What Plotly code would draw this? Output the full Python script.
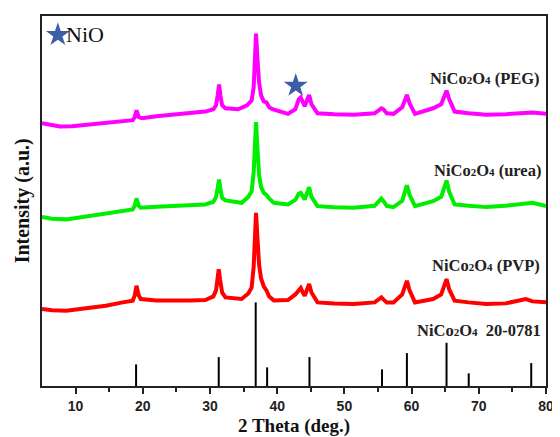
import plotly.graph_objects as go

# ---- data (2θ in degrees, intensity in arbitrary units) ----
peg_x = [5.0, 6.5, 7.65, 9.5, 12.1, 15, 17, 18.5, 18.8, 19.06, 19.4, 19.9, 22, 24.4, 27, 29.3,
         30.5, 30.9, 31.15, 31.35, 31.55, 31.8, 32.3, 34.2, 35.5, 36.2, 36.5, 36.65, 36.85, 37.05,
         37.3, 37.6, 38.0, 38.4, 38.8, 39.3, 41.6, 42.7, 43.2, 43.5, 43.8, 44.1, 44.5, 44.75, 45.1,
         46, 48.5, 51.4, 54.5, 55.5, 55.8, 56.3, 57.3, 58.6, 59.3, 59.7, 60.5, 62, 63.2, 64.4, 65.0,
         65.2, 65.6, 66.4, 68.5, 71.1, 74, 77, 78.0, 80]
peg_y = [264, 262, 260.7, 261, 263, 265, 266, 267, 270, 277, 270, 269, 271, 272.4, 274, 275.7,
         278, 282, 292, 303, 292, 282, 279, 278, 282, 287, 300, 330, 354, 330,
         305, 292, 286, 285, 280, 278, 273.4, 278, 288, 290, 285, 281, 288, 292.4, 283,
         274, 273, 272.4, 274, 279, 278, 274, 273.4, 280, 292.4, 284, 273.4, 276, 279, 283, 293,
         296.7, 288, 275.7, 274, 272.4, 273, 275, 274.7, 273.4]

urea_x = [5.0, 6.5, 8.6, 11, 14.5, 17, 18.5, 18.8, 19.06, 19.4, 19.7, 22, 24.4, 27, 29.3,
          30.5, 30.9, 31.15, 31.35, 31.55, 31.8, 32.3, 34.7, 35.7, 36.2, 36.5, 36.65, 36.85, 37.05,
          37.3, 37.6, 38.0, 38.4, 38.8, 39.5, 41.6, 42.7, 43.2, 43.5, 43.8, 44.1, 44.5, 44.75, 45.1,
          46, 48.5, 51.4, 54.5, 55.5, 55.8, 56.3, 57.3, 58.6, 59.3, 59.7, 60.5, 62, 63.2, 64.4, 65.0,
          65.2, 65.6, 66.4, 68.5, 71.1, 74, 77, 78.0, 80]
urea_y = [169.7, 168, 167.4, 170, 173, 176, 177.4, 181, 188.4, 181, 179, 180, 180.7, 181.5, 182.4,
          185, 190, 199, 207.4, 198, 189, 186.4, 184, 190, 195.7, 215, 240, 265, 240,
          212, 200, 194, 192, 188.4, 184, 182.4, 187, 193, 194, 190, 187.4, 195, 199.7, 190,
          180.7, 179.5, 179, 181, 188.4, 186, 181, 179.7, 186, 201.7, 192, 180.7, 183, 185.7, 190, 203,
          206.4, 195, 182.4, 181, 179.7, 181, 183, 184, 180.7]

pvp_x = [5.0, 6.5, 8.6, 11, 14.5, 17, 18.5, 18.8, 19.06, 19.4, 19.7, 22, 24.4, 27, 29.3,
         30.5, 30.9, 31.1, 31.3, 31.5, 31.8, 32.3, 34.7, 35.7, 36.2, 36.5, 36.65, 36.85, 37.05,
         37.3, 37.6, 38.0, 38.4, 38.8, 39.5, 41.6, 42.7, 43.2, 43.5, 43.8, 44.1, 44.5, 44.75, 45.1,
         46, 48.5, 51.4, 54.5, 55.5, 55.8, 56.3, 57.3, 58.6, 59.3, 59.7, 60.5, 62, 63.2, 64.4, 65.0,
         65.2, 65.6, 66.4, 68.5, 71.1, 74, 77.0, 78, 80]
pvp_y = [77.4, 76, 75.7, 77.5, 80.7, 84, 85.7, 91, 100.7, 91, 87.4, 86, 85.7, 86, 86.4,
         90, 96, 108, 117.4, 107, 94, 89, 87.4, 93, 99, 120, 150, 174, 150,
         122, 108, 100, 96, 90, 86, 86.4, 92, 97, 98.4, 94, 90.7, 98, 102.4, 94,
         84, 83, 82.4, 84, 89, 87, 84, 84, 92, 105.7, 96, 84, 86, 87.4, 92, 103,
         107.4, 97, 85.7, 84, 82.4, 83, 87.4, 85, 84]

# reference pattern NiCo2O4 (JCPDS 20-0781)
ref_pos = [19.0, 31.3, 36.8, 38.5, 44.8, 55.6, 59.3, 65.2, 68.5, 77.8]
ref_int = [21.7, 29, 84, 18.7, 29, 16.7, 33, 43.4, 12.7, 23]

x_ticks = [10, 20, 30, 40, 50, 60, 70, 80]
x_minor = [15, 25, 35, 45, 55, 65, 75]

serif = "Liberation Serif"
sans = "Liberation Sans"
star_color = "#3b5ea6"

fig = go.Figure()

# sticks
sx, sy = [], []
for p, h in zip(ref_pos, ref_int):
    sx += [p, p, None]
    sy += [0, h, None]
fig.add_trace(go.Scatter(x=sx, y=sy, mode="lines", line=dict(color="black", width=2),
                         hoverinfo="skip"))

for xs, ys, col in [(pvp_x, pvp_y, "#ff0000"), (urea_x, urea_y, "#00ee00"), (peg_x, peg_y, "#ff00ff")]:
    fig.add_trace(go.Scatter(x=xs, y=ys, mode="lines", line=dict(color=col, width=4),
                             hoverinfo="skip"))

# stars
fig.add_trace(go.Scatter(x=[7.36, 42.76], y=[352.7, 301.7], mode="markers",
                         marker=dict(symbol="star", size=18, color=star_color, line=dict(width=0))))

lab_font = dict(family=serif, size=16.5, color="#222222")
def sub(d):
    return '<span style="font-size:11px">' + d + '</span>'

def lab(text, x, y):
    fig.add_annotation(x=x, y=y, xref="x", yref="y", text=text, showarrow=False,
                       xanchor="right", yanchor="middle", font=lab_font)

f = "<b>NiCo" + sub("2") + "O" + sub("4") + " %s</b>"
lab(f % "(PEG)", 79.4, 309)
lab(f % "(urea)", 79.5, 216.7)
lab(f % "(PVP)", 79.4, 120.7)
lab(f % "&nbsp;20-0781", 79.5, 55.7)

fig.add_annotation(x=8.2, y=352.7, xref="x", yref="y", text="NiO", showarrow=False,
                   xanchor="left", yanchor="middle",
                   font=dict(family=serif, size=22, color="#111111"))

fig.add_annotation(x=0.5, y=-0.107, xref="paper", yref="paper", text="<b>2 Theta (deg.)</b>",
                   showarrow=False, xanchor="center", yanchor="middle", borderpad=0,
                   font=dict(family=serif, size=19, color="#111111"))
fig.add_annotation(x=-0.039, y=0.5, xref="paper", yref="paper", text="<b>Intensity (a.u.)</b>",
                   showarrow=False, textangle=-90, xanchor="center", yanchor="middle",
                   font=dict(family=serif, size=20, color="#111111"))

# the page body has an 8px margin, so the figure is made 8px smaller and shifted
fig.update_layout(
    width=552, height=429,
    margin=dict(l=34, r=9, t=6, b=51),
    paper_bgcolor="white", plot_bgcolor="white",
    showlegend=False,
    xaxis=dict(range=[5, 80], tickvals=x_ticks, ticks="outside", ticklen=6, tickwidth=1.5,
               tickcolor="#222", showline=True, linewidth=2, linecolor="#222", mirror=True,
               showgrid=False, zeroline=False,
               tickfont=dict(family=sans, size=14, color="#222", weight="bold"),
               minor=dict(tickvals=x_minor, ticks="outside", ticklen=4,
                          tickwidth=1.5, tickcolor="#222")),
    yaxis=dict(range=[0, 371.7], showticklabels=False, ticks="", showline=True, linewidth=2,
               linecolor="#222", mirror=True, showgrid=False, zeroline=False),
)

fig.write_html("out.html")
